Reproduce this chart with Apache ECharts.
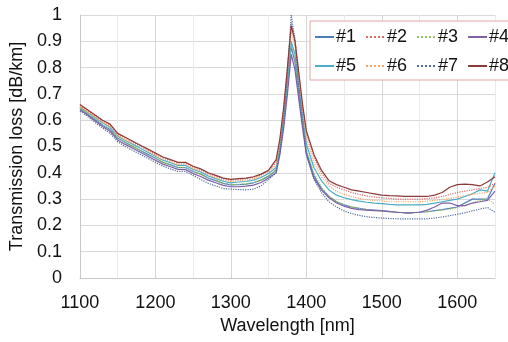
<!DOCTYPE html>
<html>
<head>
<meta charset="utf-8">
<script src="https://cdn.jsdelivr.net/npm/echarts@6/dist/echarts.min.js"></script>
<style>
	html, body { margin: 0; padding: 0; background: #fff; }
	#chart { width: 508px; height: 342px; }
</style>
</head>
<body>
<div id="chart"></div>
<script>
// wavelengths [nm]
const wavelengths = [
	1100, 1110, 1120, 1130, 1140, 1150, 1160, 1170, 1180, 1190, 1200, 1210, 1220, 1230, 1240, 1250, 1260,
	1270, 1280, 1290, 1300, 1310, 1320, 1330, 1340, 1350, 1360, 1365, 1370, 1375, 1380, 1385, 1390, 1395,
	1400, 1410, 1420, 1430, 1440, 1450, 1460, 1470, 1480, 1490, 1500, 1510, 1520, 1530, 1540, 1550, 1560,
	1570, 1580, 1590, 1600, 1610, 1620, 1630, 1640, 1650,
];

// loss per fibre [dB/km]
const loss1 = [
	.645, .624, .603, .582, .565, .532, .515, .50, .485, .47, .455, .44, .43, .42, .42, .405, .395,
	.38, .37, .36, .354, .355, .357, .362, .372, .387, .41, .48, .59, .73, .88, .82, .70, .59,
	.48, .39, .34, .31, .29, .278, .27, .265, .26, .258, .256, .253, .25, .248, .248, .25, .252,
	.256, .26, .265, .27, .285, .30, .30, .30, .36,
];
const loss2 = [
	.655, .637, .617, .597, .582, .548, .532, .517, .502, .487, .472, .457, .447, .438, .437, .422, .412,
	.397, .387, .377, .372, .375, .377, .382, .392, .407, .44, .52, .64, .80, .97, .91, .78, .65,
	.55, .46, .40, .36, .345, .335, .325, .318, .312, .308, .305, .303, .30, .30, .30, .30, .302,
	.305, .31, .318, .325, .33, .335, .34, .345, .36,
];
const loss3 = [
	.646, .625, .604, .583, .566, .532, .516, .50, .486, .47, .455, .441, .43, .421, .42, .405, .395,
	.38, .37, .36, .355, .356, .358, .363, .373, .39, .41, .49, .60, .74, .89, .83, .71, .60,
	.49, .40, .345, .31, .29, .278, .27, .265, .26, .258, .255, .252, .25, .248, .248, .25, .252,
	.255, .258, .262, .268, .275, .285, .295, .30, .28,
];
const loss4 = [
	.64, .62, .598, .576, .558, .525, .508, .493, .478, .463, .448, .433, .423, .413, .412, .397, .386,
	.372, .362, .352, .347, .347, .349, .353, .363, .38, .40, .47, .57, .70, .85, .79, .68, .57,
	.47, .38, .335, .305, .285, .273, .265, .26, .258, .256, .255, .252, .25, .248, .248, .25, .258,
	.27, .285, .285, .275, .275, .285, .29, .295, .33,
];
const loss5 = [
	.65, .63, .61, .59, .573, .54, .523, .508, .493, .478, .463, .448, .438, .428, .428, .413, .403,
	.388, .378, .368, .362, .365, .367, .372, .382, .397, .42, .50, .61, .75, .90, .85, .73, .62,
	.51, .42, .37, .335, .315, .305, .298, .292, .288, .285, .283, .28, .278, .278, .278, .278, .28,
	.285, .29, .295, .30, .31, .32, .335, .33, .40,
];
const loss6 = [
	.652, .632, .612, .592, .577, .543, .527, .512, .497, .482, .467, .452, .442, .432, .432, .417, .407,
	.392, .382, .372, .367, .37, .372, .377, .387, .402, .43, .51, .63, .78, .94, .88, .76, .64,
	.53, .44, .385, .35, .33, .318, .31, .303, .298, .295, .293, .29, .29, .29, .29, .29, .292,
	.295, .298, .302, .308, .313, .318, .322, .325, .35,
];
const loss7 = [
	.635, .615, .592, .57, .55, .518, .50, .485, .47, .455, .44, .425, .415, .405, .405, .39, .375,
	.36, .35, .34, .338, .336, .335, .338, .35, .375, .40, .48, .60, .78, 1.0, .90, .73, .60,
	.47, .375, .325, .29, .27, .255, .245, .238, .233, .23, .228, .226, .225, .225, .225, .225, .225,
	.228, .232, .237, .242, .248, .255, .262, .268, .25,
];
const loss8 = [
	.66, .64, .62, .60, .585, .55, .535, .52, .505, .49, .475, .46, .45, .44, .44, .425, .415,
	.40, .39, .38, .375, .378, .38, .385, .395, .41, .45, .53, .65, .80, .96, .90, .78, .66,
	.56, .47, .41, .37, .355, .345, .335, .33, .325, .32, .315, .313, .312, .31, .31, .31, .31,
	.315, .325, .345, .355, .357, .355, .35, .365, .385,
];

const seriesNames = ["#1", "#2", "#3", "#4", "#5", "#6", "#7", "#8"];
const seriesValues = [loss1, loss2, loss3, loss4, loss5, loss6, loss7, loss8];
const seriesColors = ["#4a7ebb", "#e06b6b", "#9bc461", "#7f5fa8", "#4bacc6", "#f7a468", "#4f6b9a", "#8b3a3a"];
const seriesDash = ["solid", "dotted", "dotted", "solid", "solid", "dotted", "dotted", "solid"];

const FONT = "Liberation Sans, Arial, sans-serif";
const TEXT = "#111";
const FS = 18;

const chart = echarts.init(document.getElementById("chart"));
chart.setOption({
	animation: false,
	textStyle: { fontFamily: FONT },
	grid: { left: 77, right: 13, top: 15, bottom: 64 },
	legend: {
		data: seriesNames,
		left: 310,
		top: 21,
		width: 200,
		padding: [6, 6, 4, 4],
		itemGap: 9,
		itemWidth: 19,
		itemHeight: 14,
		itemStyle: { opacity: 0 },
		borderColor: "#e3a3a3",
		borderWidth: 1,
		backgroundColor: "#fff",
		textStyle: { fontFamily: FONT, fontSize: FS, lineHeight: 20, color: TEXT, padding: [0, 0, 0, -3] },
	},
	xAxis: {
		type: "value",
		min: 1100,
		max: 1650,
		interval: 50,
		name: "Wavelength [nm]",
		nameLocation: "middle",
		nameGap: 34,
		nameTextStyle: { fontFamily: FONT, fontSize: FS, color: TEXT },
		axisLine: { show: true, lineStyle: { color: "#c8c8c8" } },
		axisTick: { show: false },
		axisLabel: {
			fontFamily: FONT,
			fontSize: FS,
			color: TEXT,
			margin: 16,
			formatter: value => (value % 100 === 0 ? String(value) : ""),
		},
		splitLine: { show: true, lineStyle: { color: ["#d6d6d6", "#ebebeb"], width: 1 } },
	},
	yAxis: {
		type: "value",
		min: 0,
		max: 1,
		interval: 0.1,
		name: "Transmission loss [dB/km]",
		nameLocation: "middle",
		nameGap: 48,
		nameTextStyle: { fontFamily: FONT, fontSize: FS, color: TEXT },
		axisLine: { show: true, lineStyle: { color: "#c8c8c8" } },
		axisTick: { show: false },
		axisLabel: {
			fontFamily: FONT,
			fontSize: FS,
			color: TEXT,
			margin: 18,
			formatter: value => String(Math.round(value * 10) / 10),
		},
		splitLine: { show: true, lineStyle: { color: "#d9d9d9", width: 1 } },
	},
	series: seriesNames.map((name, i) => ({
		name,
		type: "line",
		symbol: "none",
		smooth: false,
		color: seriesColors[i],
		lineStyle: { width: 1.2, type: seriesDash[i], color: seriesColors[i] },
		data: wavelengths.map((w, j) => [w, seriesValues[i][j]]),
	})),
});
</script>
</body>
</html>
